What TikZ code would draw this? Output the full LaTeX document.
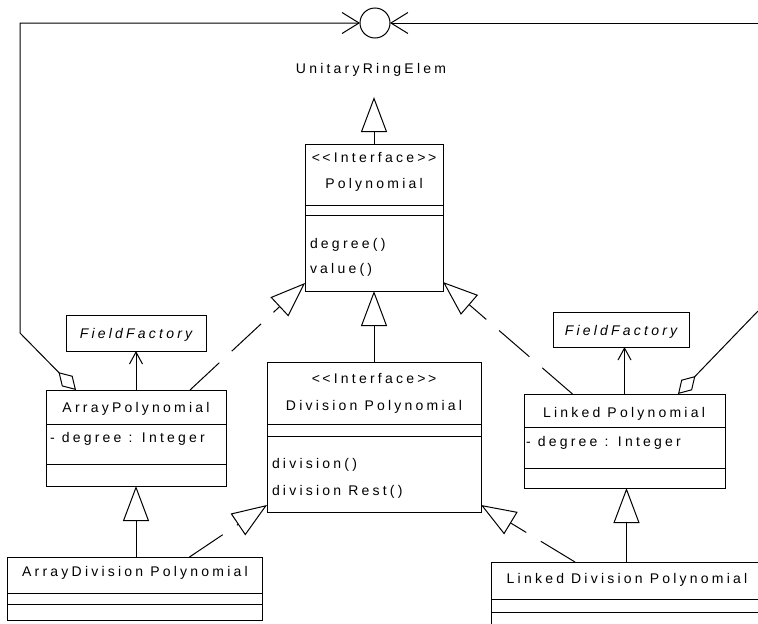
\documentclass[tikz,border=0pt]{standalone}
\usepackage{fontspec}
\newfontfamily\umlfont{Liberation Sans}[LetterSpace=23]
\usetikzlibrary{arrows.meta,calc}
\begin{document}
\begin{tikzpicture}[x=1pt,y=-1pt,
  every node/.style={inner sep=0pt, outer sep=0pt},
  umlbox/.style={draw, line width=1pt, anchor=north west},
  txt/.style={font=\umlfont\fontsize{14}{16}\selectfont, text height=10pt, text depth=0pt},
  ltxt/.style={txt, anchor=west},
  itxt/.style={font=\umlfont\itshape\fontsize{14}{16}\selectfont, text height=10pt, text depth=0pt},
  ln/.style={line width=1pt},
  gen/.style={ln, -{Triangle[open, length=35pt, width=26pt]}},
  real/.style={gen, dash pattern=on 40pt off 17pt},
  dep/.style={ln, -{Straight Barb[length=12pt, width=13pt]}},
  barb/.style={ln, -{Straight Barb[length=17pt, width=21pt]}},
  agg/.style={ln, {Diamond[open, length=25pt, width=15pt]}-{Straight Barb[length=17pt, width=21pt]}},
  aggs/.style={ln, {Diamond[open, length=25pt, width=15pt]}-},
]
\useasboundingbox (0,0) rectangle (758,624);
\fill[white] (0,0) rectangle (758,624);
\clip (0,0) rectangle (758,624);

% interface lollipop
\node[draw, circle, line width=1pt, minimum size=30pt] (ure) at (375,23) {};
\node[txt] (urelbl) at (371,68) {UnitaryRingElem};
\coordinate (uretip) at (374,97);

% Polynomial
\node[umlbox, minimum width=138pt, minimum height=147pt] (poly) at (305,144) {};
\draw[ln] ([yshift=-61pt]poly.north west) -- ([yshift=-61pt]poly.north east);
\draw[ln] ([yshift=-71pt]poly.north west) -- ([yshift=-71pt]poly.north east);
\node[txt] (polyst) at (374,157) {<\kern2.5pt<Interface>\kern2.5pt>};
\node[txt] (polynm) at (374,183) {Polynomial};
\node[ltxt] (polym1) at (310,243) {degree()};
\node[ltxt] (polym2) at (310,268) {value()};

% DivisionPolynomial
\node[umlbox, minimum width=214pt, minimum height=150pt] (divp) at (267,362) {};
\draw[ln] ([yshift=-62pt]divp.north west) -- ([yshift=-62pt]divp.north east);
\draw[ln] ([yshift=-74pt]divp.north west) -- ([yshift=-74pt]divp.north east);
\node[txt] (divpst) at (374,378) {<\kern2.5pt<Interface>\kern2.5pt>};
\node[txt] (divpnm) at (374,405) {Division Polynomial};
\node[ltxt] (divpm1) at (272,463) {division()};
\node[ltxt] (divpm2) at (272,490) {division Rest()};

% ArrayPolynomial
\node[umlbox, minimum width=180pt, minimum height=96pt] (ap) at (46,390) {};
\draw[ln] ([yshift=-34pt]ap.north west) -- ([yshift=-34pt]ap.north east);
\draw[ln] ([yshift=-74pt]ap.north west) -- ([yshift=-74pt]ap.north east);
\node[txt] (apnm) at (136,407) {ArrayPolynomial};
\node[ltxt] (apat) at (50,437) {- degree : Integer};

% FieldFactory (left)
\node[umlbox, minimum width=140pt, minimum height=36pt] (ffl) at (66,315) {};
\node[itxt] (ffltx) at (136,333) {FieldFactory};

% LinkedPolynomial
\node[umlbox, minimum width=201pt, minimum height=94pt] (lp) at (524,394) {};
\draw[ln] ([yshift=-33pt]lp.north west) -- ([yshift=-33pt]lp.north east);
\draw[ln] ([yshift=-74pt]lp.north west) -- ([yshift=-74pt]lp.north east);
\node[txt] (lpnm) at (624,412) {Linked Polynomial};
\node[ltxt] (lpat) at (526,441) {- degree : Integer};

% FieldFactory (right)
\node[umlbox, minimum width=136pt, minimum height=35pt] (ffr) at (553,312) {};
\node[itxt] (ffrtx) at (621,330) {FieldFactory};

% ArrayDivisionPolynomial
\node[umlbox, minimum width=255pt, minimum height=63pt] (adp) at (7,557) {};
\draw[ln] ([yshift=-36pt]adp.north west) -- ([yshift=-36pt]adp.north east);
\draw[ln] ([yshift=-47pt]adp.north west) -- ([yshift=-47pt]adp.north east);
\node[txt] (adpnm) at (135,571) {ArrayDivision Polynomial};

% LinkedDivisionPolynomial (cut by the right and bottom edges)
\node[umlbox, minimum width=300pt, minimum height=80pt] (ldp) at (491,562) {};
\draw[ln] ([yshift=-37pt]ldp.north west) -- ([yshift=-37pt]ldp.north east);
\draw[ln] ([yshift=-50pt]ldp.north west) -- ([yshift=-50pt]ldp.north east);
\node[txt] (ldpnm) at (627,578) {Linked Division Polynomial};

% generalizations
\draw[gen] (poly.north) -- (uretip);
\draw[gen] (divp.north) -- (poly.south);
\draw[gen] (ap.south |- adp.north) -- (ap.south);
\draw[gen] ([xshift=2pt]lp.south |- ldp.north) -- ([xshift=2pt]lp.south);

% realizations
\draw[real] ([xshift=54pt]ap.north) -- ([yshift=8pt]poly.south west);
\draw[real] ([xshift=-52pt]lp.north) -- ([yshift=9pt]poly.south east);
\draw[real] ([xshift=55pt]adp.north) -- ([yshift=7pt]divp.south west);
\draw[real] ([xshift=84pt]ldp.north west) -- ([yshift=7pt]divp.south east);

% dependencies to FieldFactory
\draw[dep] (ap.north) -- (ap.north |- ffl.south);
\draw[dep] (lp.north) -- (lp.north |- ffr.south);

% aggregations to UnitaryRingElem
\coordinate (lbend1) at (20,333);
\coordinate (lbend2) at (20,23);
\draw[agg] ([xshift=30pt]ap.north west) -- (lbend1) -- (lbend2) -- (ure.west);
\coordinate (redge) at (758,311);
\coordinate (rtop) at (758,23);
\draw[aggs] ([xshift=154pt]lp.north west) -- (redge);
\draw[barb] (rtop) -- (ure.east);
\end{tikzpicture}
\end{document}
